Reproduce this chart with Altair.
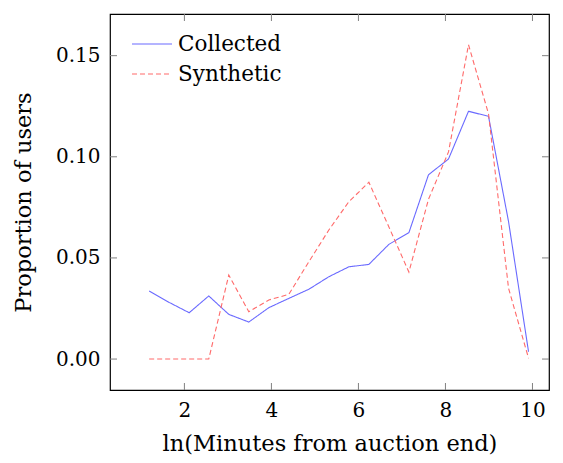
import altair as alt
import pandas as pd

x_vals = [1.19, 1.65, 2.11, 2.56, 3.02, 3.48, 3.94, 4.40, 4.86, 5.32,
          5.78, 6.24, 6.70, 7.16, 7.61, 8.07, 8.53, 8.99, 9.45, 9.91]
collected = [0.0336, 0.0280, 0.0229, 0.0312, 0.0221, 0.0183, 0.0254, 0.0300, 0.0345, 0.0407,
             0.0456, 0.0468, 0.0567, 0.0625, 0.0911, 0.0989, 0.1225, 0.1200, 0.0680, 0.0036]
synthetic = [0.0, 0.0, 0.0, 0.0, 0.0415, 0.0234, 0.0292, 0.0320, 0.0481, 0.0638,
             0.0778, 0.0874, 0.0653, 0.0430, 0.0790, 0.1024, 0.1554, 0.1212, 0.0350, 0.0004]
series_names = ["Collected", "Synthetic"]
series_colors = ["#6a6aff", "#ff6a6a"]
x_ticks = [2, 4, 6, 8, 10]
y_ticks = [0.0, 0.05, 0.10, 0.15]
x_title = "ln(Minutes from auction end)"
y_title = "Proportion of users"

FONT = "DejaVu Serif"
FS = 20
TFS = 22.5
LFS = 21.5
W, H = 439, 376
XDOM = [0.29, 10.38]
YDOM = [-0.0153, 0.1706]
TICK = 7
TICK_COLOR = "#808080"

df = pd.DataFrame({
    "x": x_vals * 2,
    "y": collected + synthetic,
    "series": [series_names[0]] * len(x_vals) + [series_names[1]] * len(x_vals),
})

xs = alt.Scale(domain=XDOM, nice=False, zero=False)
ys = alt.Scale(domain=YDOM, nice=False, zero=False)
xaxis = alt.Axis(values=x_ticks, format="d", title=x_title, tickSize=0, domain=False,
                 grid=False, labelPadding=10, titlePadding=12)
yaxis = alt.Axis(values=y_ticks, format=".2f", title=y_title, tickSize=0, domain=False,
                 grid=False, labelPadding=10, titlePadding=20)

color_scale = alt.Scale(domain=series_names, range=series_colors)
dash_scale = alt.Scale(domain=series_names, range=[[1, 0], [5, 3]])

lines = alt.Chart(df).mark_line(strokeWidth=1.1, clip=True).encode(
    x=alt.X("x:Q", scale=xs, axis=xaxis),
    y=alt.Y("y:Q", scale=ys, axis=yaxis),
    color=alt.Color("series:N", scale=color_scale, legend=None),
    strokeDash=alt.StrokeDash("series:N", scale=dash_scale, legend=None),
    detail="series:N",
)

xt = pd.DataFrame({"t": x_ticks})
yt = pd.DataFrame({"t": y_ticks})

xtick_bottom = alt.Chart(xt).mark_rule(color=TICK_COLOR, strokeWidth=1).encode(
    x=alt.X("t:Q", scale=xs, axis=xaxis), y=alt.value(H), y2=alt.value(H - TICK))
xtick_top = alt.Chart(xt).mark_rule(color=TICK_COLOR, strokeWidth=1).encode(
    x=alt.X("t:Q", scale=xs, axis=xaxis), y=alt.value(0), y2=alt.value(TICK))
ytick_left = alt.Chart(yt).mark_rule(color=TICK_COLOR, strokeWidth=1).encode(
    y=alt.Y("t:Q", scale=ys, axis=yaxis), x=alt.value(0), x2=alt.value(TICK))
ytick_right = alt.Chart(yt).mark_rule(color=TICK_COLOR, strokeWidth=1).encode(
    y=alt.Y("t:Q", scale=ys, axis=yaxis), x=alt.value(W - TICK), x2=alt.value(W))

leg = pd.DataFrame({"series": series_names})
LEG_Y = [30, 60]
leg_layers = []
for name, ly in zip(series_names, LEG_Y):
    base = alt.Chart(leg).transform_filter(alt.datum.series == name)
    leg_layers.append(base.mark_rule(strokeWidth=1.1).encode(
        x=alt.value(22), x2=alt.value(62), y=alt.value(ly),
        color=alt.Color("series:N", scale=color_scale, legend=None),
        strokeDash=alt.StrokeDash("series:N", scale=dash_scale, legend=None),
    ))
    leg_layers.append(base.mark_text(align="left", baseline="middle", font=FONT,
                                     fontSize=LFS, color="black", dy=1).encode(
        x=alt.value(68), y=alt.value(ly), text="series:N",
    ))

chart = alt.layer(lines, xtick_bottom, xtick_top, ytick_left, ytick_right,
                  *leg_layers).properties(
    width=W, height=H,
    background="white",
    autosize=alt.AutoSizeParams(type="none"),
    padding={"left": 102, "top": 6, "right": 6, "bottom": 70},
).configure_view(stroke="black", strokeWidth=1.2).configure_axis(
    labelFont=FONT, titleFont=FONT, labelFontSize=FS, titleFontSize=TFS,
    labelColor="black", titleColor="black", titleFontWeight="normal",
)

chart.save("out.html", embed_options={"renderer": "svg", "actions": False})
